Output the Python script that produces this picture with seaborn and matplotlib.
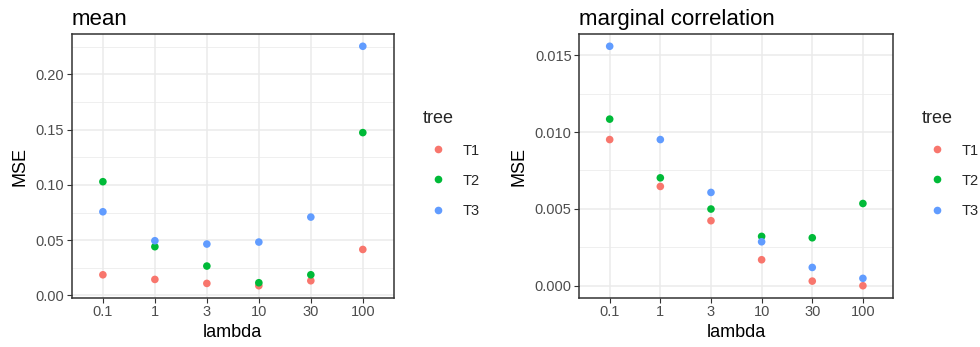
import matplotlib
matplotlib.use("Agg")
import matplotlib.pyplot as plt
import seaborn as sns
import pandas as pd
import numpy as np
from matplotlib.ticker import MultipleLocator

lambdas = ["0.1", "1", "3", "10", "30", "100"]
trees = ["T1", "T2", "T3"]

mean_T1 = [0.0187, 0.0145, 0.0109, 0.0088, 0.0133, 0.0416]
mean_T2 = [0.1029, 0.0441, 0.0266, 0.0115, 0.0187, 0.1473]
mean_T3 = [0.0757, 0.0495, 0.0465, 0.0483, 0.0709, 0.2254]

corr_T1 = [0.00951, 0.00646, 0.00423, 0.00169, 0.00030, 0.00000]
corr_T2 = [0.01084, 0.00702, 0.00499, 0.00321, 0.00312, 0.00535]
corr_T3 = [0.01558, 0.00951, 0.00607, 0.00286, 0.00119, 0.00048]

palette = {"T1": "#F8766D", "T2": "#00BA38", "T3": "#619CFF"}


def make_df(a, b, c):
    rows = []
    for t, vals in zip(trees, [a, b, c]):
        for l, v in zip(lambdas, vals):
            rows.append({"lambda": l, "MSE": v, "tree": t})
    return pd.DataFrame(rows)


df_mean = make_df(mean_T1, mean_T2, mean_T3)
df_corr = make_df(corr_T1, corr_T2, corr_T3)

sns.set_theme(style="white")
plt.rcParams["font.family"] = ["Liberation Sans", "DejaVu Sans"]

fig = plt.figure(figsize=(9.8, 3.47), dpi=100)

H = 347.0
W = 980.0
axes_specs = [
    (df_mean, "mean", (71.7, 394.0), 0.05, 0.025, "{:.2f}", 423.0),
    (df_corr, "marginal correlation", (579.3, 893.3), 0.005, 0.0025, "{:.3f}", 922.0),
]

for df, title, (x0, x1), major, minor, fmt, lx in axes_specs:
    ax = fig.add_axes([x0 / W, 1 - 297.7 / H, (x1 - x0) / W, (297.7 - 34.3) / H])
    ax.set_facecolor("white")
    sns.scatterplot(data=df, x="lambda", y="MSE", hue="tree", hue_order=trees,
                    palette=palette, s=30, linewidth=0, ax=ax, legend=True, zorder=3)
    ymin, ymax = df["MSE"].min(), df["MSE"].max()
    pad = (ymax - ymin) * 0.05
    ax.set_ylim(ymin - pad, ymax + pad)
    ax.set_xlim(-0.6, len(lambdas) - 1 + 0.6)
    ax.set_xticks(range(len(lambdas)))
    ax.set_xticklabels(lambdas)
    ax.yaxis.set_major_locator(MultipleLocator(major))
    ax.yaxis.set_minor_locator(MultipleLocator(minor))
    ax.yaxis.set_major_formatter(matplotlib.ticker.FuncFormatter(lambda v, p, f=fmt: f.format(abs(v) if abs(v) < 1e-12 else v)))
    ax.grid(True, which="major", color="#EBEBEB", linewidth=1.1, zorder=0)
    ax.grid(True, which="minor", axis="y", color="#EBEBEB", linewidth=0.55, zorder=0)
    ax.set_axisbelow(True)
    for sp in ax.spines.values():
        sp.set_color("#333333")
        sp.set_linewidth(1.1)
    ax.tick_params(axis="both", which="major", length=3.5, width=0.8, color="#333333",
                   labelsize=10.5, labelcolor="#4D4D4D", pad=2, bottom=True, left=True)
    ax.tick_params(axis="y", which="minor", length=0)
    ax.set_xlabel("lambda", fontsize=13, color="black", labelpad=3.5)
    ax.set_ylabel("MSE", fontsize=13, color="black", labelpad=5)
    ax.set_title(title, loc="left", fontsize=16, color="black", pad=7)

    leg = ax.legend(title="tree", loc="upper left",
                    bbox_to_anchor=(lx / W, 1 - 110.5 / H), bbox_transform=fig.transFigure,
                    frameon=False, fontsize=10.5, title_fontsize=13, borderpad=0,
                    handletextpad=0.75, labelspacing=1.1, borderaxespad=0, handlelength=2.0)
    leg._legend_box.align = "left"
    for h in leg.legend_handles:
        if hasattr(h, "set_markersize"):
            h.set_markersize(5.5)

fig.savefig("out.png", dpi=100)
